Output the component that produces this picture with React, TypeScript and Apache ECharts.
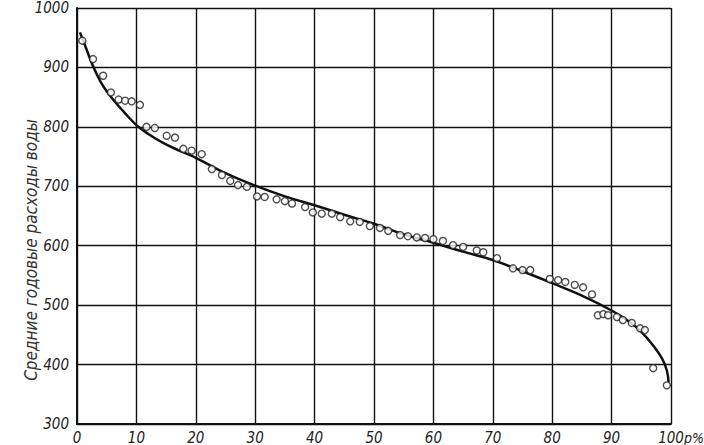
import React, { useEffect, useRef } from "react";
import * as echarts from "echarts";

const xTicks = [0, 10, 20, 30, 40, 50, 60, 70, 80, 90, 100];
const yTicks = [300, 400, 500, 600, 700, 800, 900, 1000];
const yAxisTitle = "Средние годовые расходы воды";
const xUnit = "p%";

// smoothed curve (p %, discharge)
const curveX = [0.5, 1.5, 2.5, 3.5, 4.5, 6, 8, 10, 12, 14.5, 17, 20, 25, 30, 35, 40, 45, 50, 55, 60, 65, 70, 75, 80, 85, 90, 93, 95, 97, 98.5, 99.3, 99.6];
const curveY = [959, 933, 907, 885, 867, 847, 824, 803, 788, 773, 761, 748, 722, 701, 683, 668, 652, 637, 619, 605, 590, 576, 557, 537, 516, 491, 472, 455, 432, 410, 390, 370];

// observed points (p %, discharge)
const obsX = [0.9, 2.7, 4.4, 5.7, 7.0, 8.1, 9.2, 10.6, 11.7, 13.1, 15.1, 16.5, 17.9, 19.3, 21.0, 22.7, 24.4, 25.8, 27.1, 28.6, 30.3, 31.6, 33.6, 35.0, 36.2, 38.4, 39.7, 41.2, 42.9, 44.3, 46.0, 47.6, 49.3, 51.0, 52.4, 54.4, 55.7, 57.2, 58.6, 60.0, 61.6, 63.3, 65.0, 67.3, 68.4, 70.7, 73.4, 75.0, 76.3, 79.6, 81.0, 82.2, 83.8, 85.2, 86.7, 87.7, 88.6, 89.4, 90.9, 91.9, 93.4, 94.8, 95.6, 97.0, 99.3];
const obsY = [945, 914, 886, 858, 846, 844, 843, 837, 800, 798, 785, 782, 763, 760, 754, 729, 719, 709, 702, 699, 683, 682, 678, 675, 671, 665, 656, 654, 654, 648, 641, 640, 633, 630, 625, 618, 616, 614, 613, 611, 608, 601, 598, 592, 589, 579, 562, 559, 559, 544, 542, 539, 534, 530, 518, 483, 485, 483, 480, 475, 470, 461, 458, 394, 365];

const FONT = "'DejaVu Sans Condensed', 'DejaVu Sans', sans-serif";

export default function App() {
  const ref = useRef<HTMLDivElement>(null);
  useEffect(() => {
    if (!ref.current) return;
    const chart = echarts.init(ref.current, null, { renderer: "svg" });
    const curve = curveX.map((x, i) => [x, curveY[i]]);
    const obs = obsX.map((x, i) => [x, obsY[i]]);
    chart.setOption({
      animation: false,
      backgroundColor: "#ffffff",
      grid: { left: 77, right: 33, top: 8, bottom: 21 },
      xAxis: {
        type: "value",
        min: 0,
        max: 100,
        interval: 10,
        axisLine: { show: true, lineStyle: { color: "#111", width: 2 } },
        axisTick: { show: false },
        splitLine: { show: true, lineStyle: { color: "#111", width: 1.4 } },
        axisLabel: {
          color: "#222",
          fontFamily: FONT,
          fontStyle: "italic",
          fontSize: 15,
          margin: 6,
          formatter: (v: number) => (xTicks.includes(v) ? String(v) : ""),
        },
      },
      yAxis: {
        type: "value",
        min: 300,
        max: 1000,
        interval: 100,
        axisLine: { show: true, lineStyle: { color: "#111", width: 2 } },
        axisTick: { show: false },
        splitLine: { show: true, lineStyle: { color: "#111", width: 1.4 } },
        axisLabel: {
          color: "#222",
          fontFamily: FONT,
          fontStyle: "italic",
          fontSize: 15,
          margin: 8,
          formatter: (v: number) => (yTicks.includes(v) ? String(v) : ""),
        },
      },
      graphic: [
        {
          type: "text",
          x: 31,
          y: 250,
          rotation: Math.PI / 2,
          style: {
            text: yAxisTitle,
            fill: "#333",
            font: `italic 17px ${FONT}`,
            align: "center",
            verticalAlign: "middle",
          },
        },
        {
          type: "text",
          x: 684,
          y: 438,
          style: {
            text: xUnit,
            fill: "#222",
            font: `italic 14px ${FONT}`,
            align: "left",
            verticalAlign: "middle",
          },
        },
      ],
      series: [
        {
          type: "line",
          data: curve,
          smooth: 0.4,
          showSymbol: false,
          symbol: "none",
          lineStyle: { color: "#111", width: 2.5 },
          z: 3,
        },
        {
          type: "scatter",
          data: obs,
          symbol: "circle",
          symbolSize: 7,
          itemStyle: { color: "#ffffff", borderColor: "#222", borderWidth: 1.4 },
          z: 4,
        },
      ],
    });
    return () => chart.dispose();
  }, []);
  return <div ref={ref} style={{ width: 704, height: 445, position: "absolute", left: 0, top: 0 }} />;
}
